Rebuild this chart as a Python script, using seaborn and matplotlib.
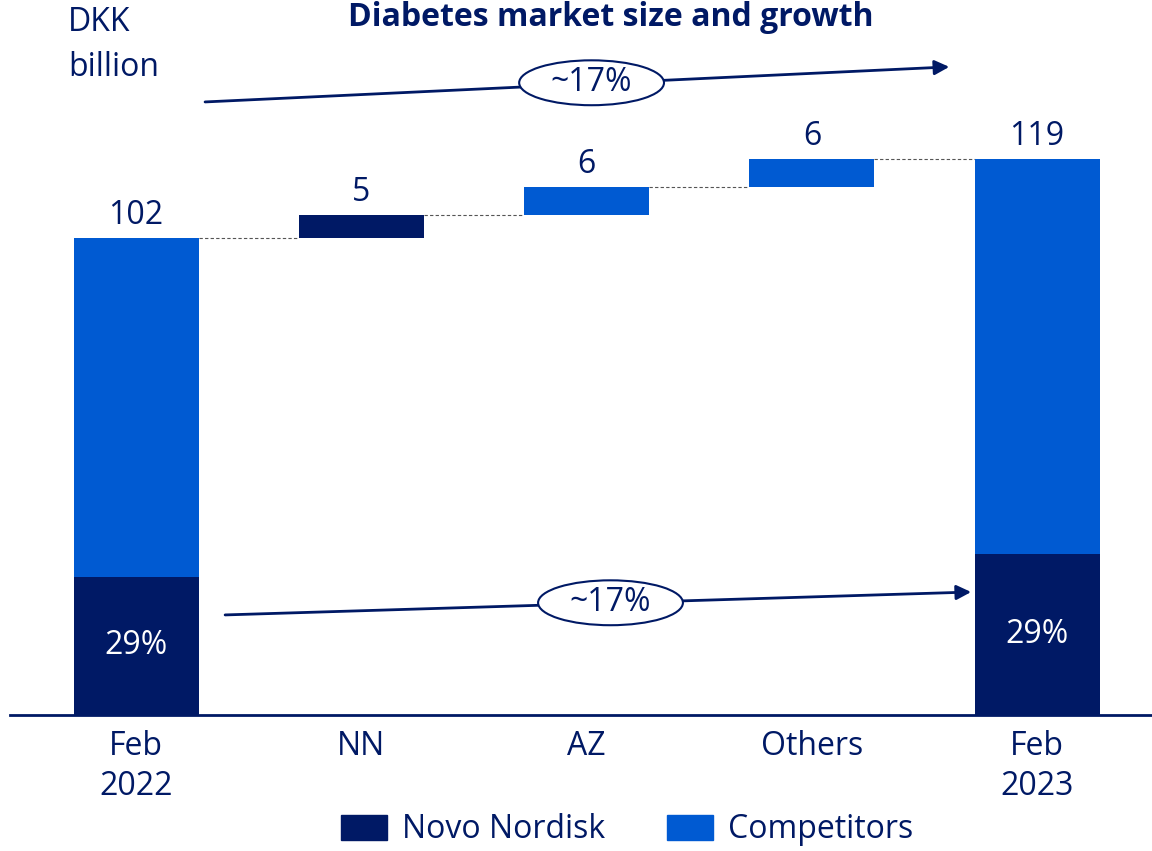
"""Waterfall chart: diabetes market size and growth, Feb 2022 to Feb 2023."""

import matplotlib
matplotlib.use("Agg")
import matplotlib.pyplot as plt
from matplotlib.patches import Ellipse, Patch
import pandas as pd
import seaborn as sns

sns.set_theme(style="white")
plt.rcParams["font.family"] = ["Open Sans", "DejaVu Sans"]

NAVY = "#001965"
BLUE = "#005AD2"

# data (DKK billion)
categories = ["Feb\n2022", "NN", "AZ", "Others", "Feb\n2023"]
start_total = 102
increments = [5, 6, 6]
increment_owner = ["Novo Nordisk", "Competitors", "Competitors"]
end_total = 119
novo_share = [0.29, 0.29]
share_labels = ["29%", "29%"]
growth_label = "~17%"

FS = 23


def main() -> None:
    fig = plt.figure(figsize=(11.52, 8.51), dpi=100)
    ax = fig.add_axes([10 / 1152, 136 / 851, 1 - 10 / 1152, 715 / 851])

    # full bars (start and end) drawn with seaborn
    totals = pd.DataFrame({"cat": categories, "total": [start_total, 0, 0, 0, end_total]})
    novo = pd.DataFrame({"cat": categories,
                         "value": [start_total * novo_share[0], 0, 0, 0, end_total * novo_share[1]]})
    sns.barplot(data=totals, x="cat", y="total", color=BLUE, width=0.555,
                saturation=1, linewidth=0, ax=ax, zorder=2)
    sns.barplot(data=novo, x="cat", y="value", color=NAVY, width=0.555,
                saturation=1, linewidth=0, ax=ax, zorder=3)

    # floating increments
    levels = [start_total]
    for inc in increments:
        levels.append(levels[-1] + inc)
    for i, (inc, owner) in enumerate(zip(increments, increment_owner), start=1):
        ax.bar(i, inc, bottom=levels[i - 1], width=0.555, linewidth=0,
               color=NAVY if owner == "Novo Nordisk" else BLUE, zorder=3)

    # dashed connectors
    for i, lvl in enumerate(levels):
        ax.plot([i + 0.2775, i + 1 - 0.2775], [lvl, lvl], ls=(0, (3, 2)),
                color="#555555", lw=0.8, zorder=1)

    # value labels
    label_vals = [start_total] + increments + [end_total]
    label_tops = levels + [end_total]
    for i, (v, top) in enumerate(zip(label_vals, label_tops)):
        ax.text(i, top + 1.2, str(v), ha="center", va="bottom", fontsize=FS, color=NAVY)

    # share labels in Novo part
    for i, share, lab in zip([0, 4], novo_share, share_labels):
        tot = start_total if i == 0 else end_total
        ax.text(i, tot * share / 2, lab, ha="center", va="center", fontsize=FS,
                color="white", zorder=4)

    # growth arrows with ellipses
    arrows = [((0.306, 131.1), (3.61, 138.6), (2.022, 135.2)),
              ((0.395, 21.4), (3.707, 26.3), (2.106, 24.0))]
    for start, end, centre in arrows:
        ax.annotate("", xy=end, xytext=start,
                    arrowprops=dict(arrowstyle="-|>", color=NAVY, lw=2, mutation_scale=22,
                                    shrinkA=0, shrinkB=0), zorder=5)
        ax.add_patch(Ellipse(centre, 0.643, 9.6, facecolor="white", edgecolor=NAVY,
                             lw=1.5, zorder=6))
        ax.text(centre[0], centre[1], growth_label, ha="center", va="center",
                fontsize=FS, color=NAVY, zorder=7)

    ax.set_xlim(-0.56, 4.51)
    ax.set_ylim(0, 152.9)
    ax.set_xlabel("")
    ax.set_ylabel("")
    ax.set_yticks([])
    for side in ["top", "right", "left"]:
        ax.spines[side].set_visible(False)
    ax.spines["bottom"].set_color(NAVY)
    ax.spines["bottom"].set_linewidth(2)
    ax.tick_params(axis="x", length=0, pad=11, labelsize=FS, labelcolor=NAVY)
    for lab in ax.get_xticklabels():
        lab.set_linespacing(1.25)

    fig.text(611 / 1152, 1 - 18 / 851, "Diabetes market size and growth", ha="center",
             va="center", fontsize=23, fontweight="bold", color=NAVY)
    fig.text(68 / 1152, 1 - 45 / 851, "DKK\nbillion", ha="left", va="center",
             fontsize=FS, color=NAVY, linespacing=1.45)

    handles = [Patch(color=NAVY, label="Novo Nordisk"), Patch(color=BLUE, label="Competitors")]
    fig.legend(handles=handles, loc="center", bbox_to_anchor=(627 / 1152, 1 - 830 / 851),
               ncol=2, frameon=False, fontsize=FS, handlelength=1.45, handleheight=0.85,
               handletextpad=0.45, columnspacing=1.95, labelcolor=NAVY)

    fig.savefig("out.png", dpi=100)
    plt.close(fig)


if __name__ == "__main__":
    main()
